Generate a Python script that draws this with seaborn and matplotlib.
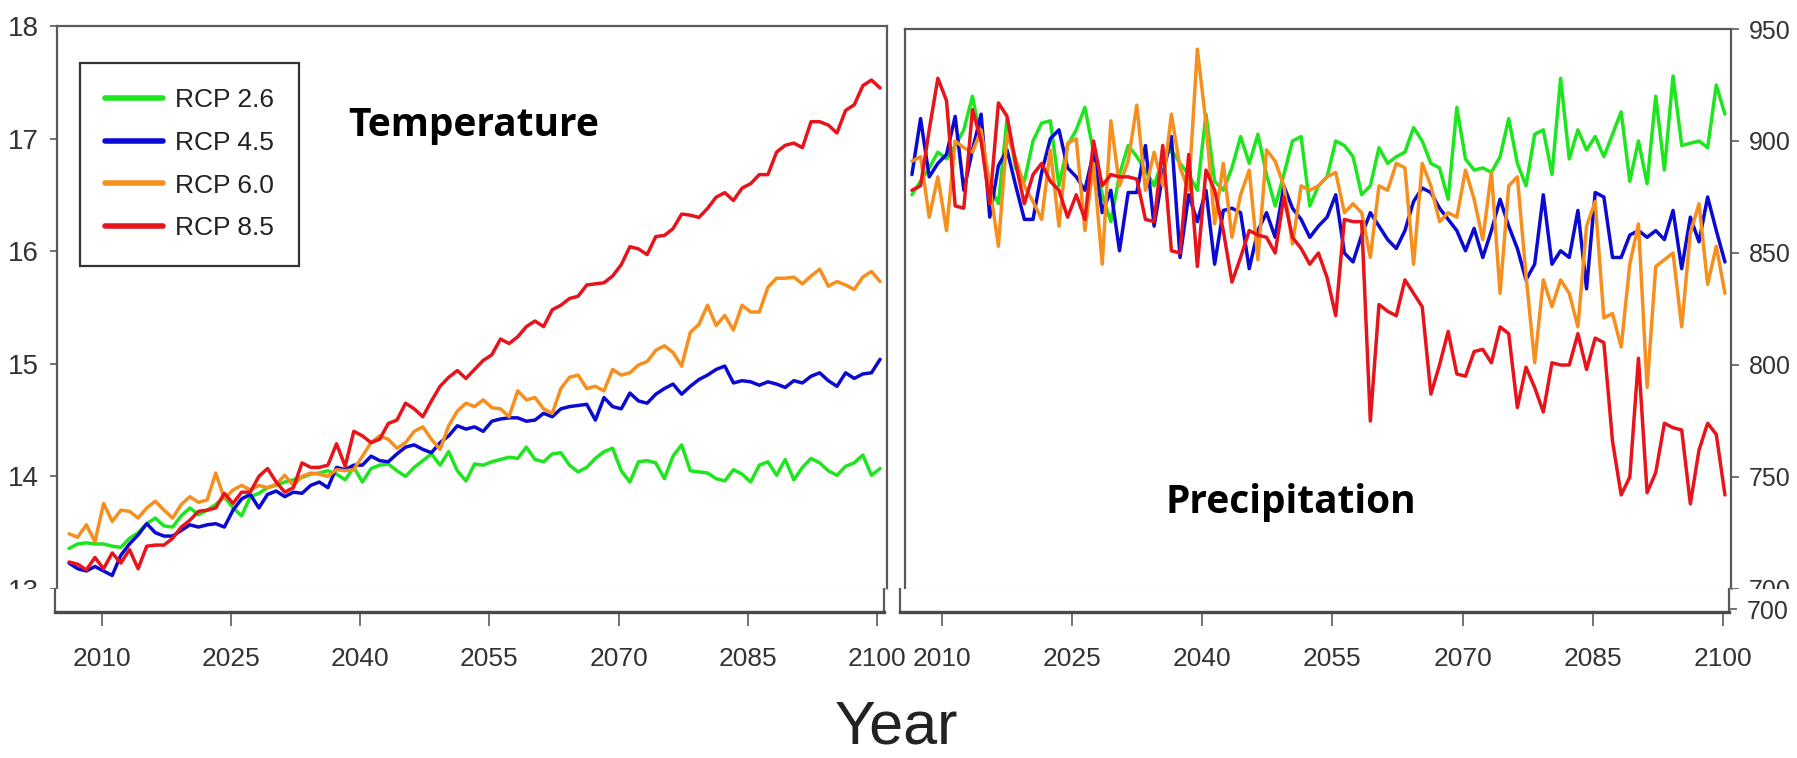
import numpy as np
import pandas as pd
import matplotlib
matplotlib.use('Agg')
import matplotlib.pyplot as plt
from matplotlib.patches import Rectangle
import seaborn as sns

# years and scenarios
years = list(range(2006, 2101))
scenarios = ['RCP 2.6', 'RCP 4.5', 'RCP 6.0', 'RCP 8.5']
colors = ['#1ee61e', '#0a0ad2', '#f78f1e', '#e8141b']

# mean temperature (deg C)
temp_26 = [13.36, 13.40, 13.41, 13.40, 13.40, 13.38, 13.37, 13.45, 13.50, 13.58,
           13.63, 13.56, 13.55, 13.65, 13.72, 13.66, 13.70, 13.75, 13.82, 13.72,
           13.65, 13.82, 13.85, 13.90, 13.92, 13.95, 13.97, 13.99, 14.02, 14.03,
           14.05, 14.02, 13.97, 14.08, 13.95, 14.07, 14.10, 14.11, 14.05, 14.00,
           14.08, 14.14, 14.20, 14.10, 14.22, 14.05, 13.96,
           14.11, 14.10, 14.13, 14.15, 14.17, 14.16, 14.26, 14.15,
           14.13, 14.20, 14.21, 14.10, 14.04, 14.08, 14.16, 14.22, 14.25, 14.05,
           13.95, 14.13, 14.14, 14.12, 13.98, 14.18, 14.28, 14.05, 14.04, 14.03,
           13.98, 13.96, 14.06, 14.02, 13.95, 14.10, 14.13, 14.01, 14.15, 13.97,
           14.08, 14.16, 14.12, 14.05, 14.01, 14.09, 14.12, 14.19, 14.01, 14.07]
temp_45 = [13.23, 13.18, 13.16, 13.20, 13.16, 13.12, 13.30, 13.40, 13.48, 13.58,
           13.50, 13.47, 13.47, 13.52, 13.57, 13.55, 13.57, 13.58, 13.55, 13.70,
           13.80, 13.84, 13.72, 13.84, 13.87, 13.82, 13.86, 13.85, 13.92, 13.95,
           13.90, 14.08, 14.06, 14.10, 14.10, 14.18, 14.14, 14.13, 14.20, 14.26,
           14.28, 14.24, 14.21, 14.30, 14.36, 14.45, 14.42,
           14.44, 14.40, 14.49, 14.51, 14.52, 14.52, 14.49, 14.50,
           14.56, 14.53, 14.60, 14.62, 14.63, 14.64, 14.50, 14.70, 14.62, 14.60,
           14.74, 14.67, 14.65, 14.73, 14.78, 14.82, 14.73, 14.80, 14.86, 14.90,
           14.95, 14.98, 14.83, 14.85, 14.84, 14.81, 14.84, 14.82, 14.79, 14.85,
           14.83, 14.89, 14.92, 14.85, 14.80, 14.92, 14.87, 14.91, 14.92, 15.04]
temp_60 = [13.49, 13.46, 13.57, 13.42, 13.76, 13.60, 13.70, 13.69, 13.63, 13.72,
           13.78, 13.70, 13.63, 13.75, 13.82, 13.77, 13.79, 14.03, 13.80, 13.88,
           13.92, 13.88, 13.92, 13.90, 13.93, 14.01, 13.92, 14.00, 14.03, 14.02,
           14.00, 14.06, 14.05, 14.06, 14.18, 14.30, 14.36, 14.33, 14.25, 14.30,
           14.40, 14.44, 14.33, 14.24, 14.45, 14.58, 14.65,
           14.62, 14.68, 14.61, 14.60, 14.53, 14.76, 14.68, 14.70,
           14.60, 14.56, 14.78, 14.88, 14.90, 14.78, 14.80, 14.76, 14.95, 14.90,
           14.92, 14.99, 15.02, 15.12, 15.16, 15.10, 14.98, 15.28, 15.35, 15.52,
           15.34, 15.43, 15.30, 15.52, 15.46, 15.46, 15.68, 15.76, 15.76, 15.77,
           15.71, 15.78, 15.84, 15.69, 15.73, 15.70, 15.66, 15.77, 15.82, 15.73]
temp_85 = [13.24, 13.22, 13.17, 13.28, 13.18, 13.32, 13.23, 13.35, 13.18, 13.38,
           13.39, 13.39, 13.45, 13.55, 13.61, 13.69, 13.70, 13.72, 13.85, 13.76,
           13.86, 13.86, 14.00, 14.07, 13.95, 13.86, 13.90, 14.12, 14.08, 14.08,
           14.10, 14.29, 14.09, 14.40, 14.36, 14.30, 14.33, 14.47, 14.50, 14.65,
           14.60, 14.53, 14.67, 14.80, 14.88, 14.94, 14.87,
           14.95, 15.03, 15.08, 15.22, 15.18, 15.24, 15.33, 15.38,
           15.33, 15.48, 15.52, 15.58, 15.60, 15.70, 15.71, 15.72, 15.78, 15.88,
           16.04, 16.02, 15.97, 16.13, 16.14, 16.20, 16.33, 16.32, 16.30, 16.38,
           16.48, 16.52, 16.45, 16.56, 16.60, 16.68, 16.68, 16.88, 16.94, 16.96,
           16.92, 17.15, 17.15, 17.12, 17.05, 17.25, 17.30, 17.47, 17.52, 17.45]

# annual precipitation (mm)
prec_26 = [876, 882, 888, 895, 892, 898, 905, 920, 900, 880,
           872, 910, 888, 882, 900, 908, 909, 880, 898, 905,
           915, 895, 876, 864, 885, 898, 893, 887, 880, 892,
           896, 890, 885, 878, 912, 882, 878, 888, 902, 890,
           903, 885, 871, 885, 900, 902, 871, 880,
           884, 900, 898, 893, 876, 880, 897,
           890, 893, 895, 906, 900, 890, 888, 874, 915, 892,
           887, 888, 886, 893, 910, 890, 880, 903, 905, 885,
           928, 892, 905, 896, 902, 893, 903, 913, 882, 900,
           881, 920, 887, 929, 898, 899, 900, 897, 925, 912]
prec_45 = [885, 910, 884, 890, 894, 911, 878, 896, 912, 866,
           889, 896, 880, 865, 865, 886, 901, 905, 888, 884,
           878, 895, 868, 878, 851, 877, 877, 898, 862, 885,
           902, 848, 876, 864, 878, 845, 869, 870, 868, 843,
           860, 868, 857, 880, 870, 865, 857, 862,
           866, 876, 850, 846, 858, 868, 862,
           856, 852, 860, 873, 879, 877, 870, 865, 860, 851,
           861, 848, 860, 874, 862, 852, 838, 845, 876, 845,
           851, 848, 869, 834, 877, 875, 848, 848, 858, 860,
           857, 860, 856, 869, 843, 866, 855, 875, 860, 846]
prec_60 = [891, 893, 866, 884, 860, 900, 897, 895, 905, 880,
           853, 903, 892, 880, 873, 865, 896, 862, 899, 901,
           860, 890, 845, 909, 880, 891, 916, 878, 895, 880,
           912, 888, 878, 941, 908, 863, 890, 857, 876, 887,
           847, 896, 891, 880, 854, 880, 878, 880,
           884, 886, 868, 872, 868, 848, 880,
           878, 890, 888, 845, 890, 880, 864, 868, 866, 887,
           874, 856, 886, 832, 880, 884, 840, 801, 838, 826,
           838, 832, 817, 862, 873, 821, 823, 808, 845, 863,
           790, 844, 847, 850, 817, 859, 872, 836, 853, 832]
prec_85 = [878, 880, 905, 928, 918, 871, 870, 914, 900, 872,
           917, 911, 890, 872, 885, 890, 882, 878, 866, 876,
           865, 900, 880, 885, 884, 884, 883, 865, 864, 898,
           851, 850, 894, 844, 887, 878, 860, 837, 848, 860,
           858, 857, 850, 875, 857, 852, 845, 850,
           839, 822, 865, 864, 864, 775, 827, 824, 822, 838,
           832, 826, 787, 800, 815, 796, 795, 806, 807, 801,
           817, 814, 781, 799, 790, 779, 801, 800, 800, 814,
           798, 812, 810, 766, 742, 750, 803, 743, 752, 774,
           772, 771, 738, 762, 774, 769, 742]

x_ticks = [2010, 2025, 2040, 2055, 2070, 2085, 2100]
temp_ticks = [13, 14, 15, 16, 17, 18]
prec_ticks = [700, 750, 800, 850, 900, 950]


def long_df(series):
    return pd.DataFrame({
        'year': years * len(series),
        'value': np.concatenate(series),
        'scenario': np.repeat(scenarios, len(years)),
    })


temp_df = long_df([temp_26, temp_45, temp_60, temp_85])
prec_df = long_df([prec_26, prec_45, prec_60, prec_85])

sns.set_style('white')
plt.rcParams['font.family'] = ['Liberation Sans', 'DejaVu Sans']

W, H = 1797, 758
fig = plt.figure(figsize=(W / 100, H / 100), dpi=100)
fig.patch.set_facecolor('white')

ax_t = fig.add_axes([57 / W, 1 - 589 / H, 830 / W, 563 / H])
ax_p = fig.add_axes([905 / W, 1 - 589 / H, 826 / W, 560 / H])
strip_t = fig.add_axes([55 / W, 1 - 612 / H, 829 / W, 23 / H], zorder=6)
strip_p = fig.add_axes([900 / W, 1 - 612 / H, 829 / W, 23 / H], zorder=6)

sns.lineplot(data=temp_df, x='year', y='value', hue='scenario', palette=colors,
             linewidth=2.5, estimator=None, ax=ax_t)
sns.lineplot(data=prec_df, x='year', y='value', hue='scenario', palette=colors,
             linewidth=2.5, estimator=None, legend=False, ax=ax_p)

edge = '#5a5a5a'
for ax, ylim in [(ax_t, (13, 18)), (ax_p, (700, 950))]:
    ax.set_ylim(*ylim)
    ax.set_xticks([])
    ax.set_xlabel('')
    ax.set_ylabel('')
    for side in ['top', 'left', 'right']:
        ax.spines[side].set_color(edge)
        ax.spines[side].set_linewidth(1.6)
    ax.spines['bottom'].set_color('#c8c8c8')
    ax.spines['bottom'].set_linewidth(0.8)

ax_t.set_xlim(2004.6, 2100.8)
ax_p.set_xlim(2005.2, 2100.7)

ax_t.set_yticks(temp_ticks)
ax_t.set_yticklabels([str(v) for v in temp_ticks], fontsize=20, color='#333333')
ax_t.tick_params(axis='y', left=True, direction='out', length=5, width=1.2, color=edge, pad=8)

ax_p.set_yticks(prec_ticks)
ax_p.yaxis.tick_right()
ax_p.set_yticklabels([str(v) for v in prec_ticks], fontsize=18, color='#333333')
ax_p.tick_params(axis='y', right=True, left=False, direction='out', length=6, width=1.2, color=edge, pad=7)

# legend
handles, labels = ax_t.get_legend_handles_labels()
leg = ax_t.legend(handles, labels, loc='upper left', bbox_to_anchor=(0.028, 0.934),
                  frameon=True, fancybox=False, edgecolor='#333333', framealpha=1,
                  fontsize=19, handlelength=2.2, handletextpad=0.45,
                  labelspacing=0.71, borderpad=0.95, borderaxespad=0)
leg.get_frame().set_linewidth(1.6)
for line in leg.get_lines():
    line.set_linewidth(4)
for txt in leg.get_texts():
    txt.set_color('#222222')

ax_t.text(0.502, 0.824, 'Temperature', transform=ax_t.transAxes, ha='center', va='center',
          fontsize=28, fontweight='bold', family='Open Sans', color='black')
ax_p.text(0.467, 0.155, 'Precipitation', transform=ax_p.transAxes, ha='center', va='center',
          fontsize=28, fontweight='bold', family='Open Sans', color='black')

# x-axis strips below the panels
for strip, main in [(strip_t, ax_t), (strip_p, ax_p)]:
    strip.set_facecolor('white')
    strip.set_xlim(main.get_xlim())
    strip.set_ylim(0, 1)
    strip.set_xticks(x_ticks)
    strip.set_xticklabels([str(y) for y in x_ticks], fontsize=19, color='#333333')
    strip.tick_params(axis='x', bottom=True, direction='out', length=10, width=1.2, color=edge, pad=15)
    strip.spines['top'].set_visible(False)
    for side in ['left', 'right']:
        strip.spines[side].set_color(edge)
        strip.spines[side].set_linewidth(1.6)
    strip.spines['bottom'].set_color('#4a4a4a')
    strip.spines['bottom'].set_linewidth(2.4)

strip_t.set_yticks([])
strip_p.yaxis.tick_right()
strip_p.set_yticks([0.12])
strip_p.set_yticklabels([str(prec_ticks[0])], fontsize=18, color='#333333')
strip_p.tick_params(axis='y', right=True, left=False, direction='out', length=6, width=1.2, color=edge, pad=7)

# the bottom tick labels of the panels are cut by the strip
fig.patches.append(Rectangle((0, 0), 54 / W, 1 - 589 / H, transform=fig.transFigure,
                             facecolor='white', edgecolor='none', zorder=5))
fig.patches.append(Rectangle((1733 / W, 0), 1 - 1733 / W, 1 - 589 / H, transform=fig.transFigure,
                             facecolor='white', edgecolor='none', zorder=5))

fig.text(896 / W, 1 - 728 / H, 'Year', ha='center', va='center', fontsize=44, color='#222222')

fig.savefig('out.png', dpi=100, facecolor='white')
